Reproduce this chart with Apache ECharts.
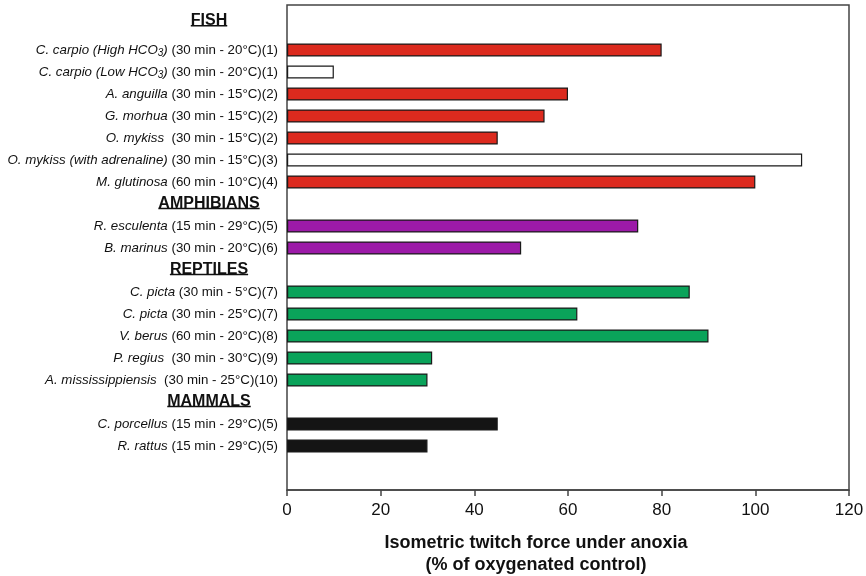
<!DOCTYPE html>
<html><head><meta charset="utf-8">
<script src="https://cdn.jsdelivr.net/npm/echarts@6/dist/echarts.min.js"></script>
<style>html,body{margin:0;padding:0;background:#fff}#c{width:866px;height:576px}</style>
</head><body><div id="c"></div>
<script>
// ---- data ----
const species = ['C. carpio (High HCO3)','C. carpio (Low HCO3)','A. anguilla','G. morhua','O. mykiss ','O. mykiss (with adrenaline)','M. glutinosa','AMPHIBIANS','R. esculenta','B. marinus','REPTILES','C. picta','C. picta','V. berus','P. regius ','A. mississippiensis ','MAMMALS','C. porcellus','R. rattus'];
const conditions = ['(30 min - 20°C)(1)','(30 min - 20°C)(1)','(30 min - 15°C)(2)','(30 min - 15°C)(2)','(30 min - 15°C)(2)','(30 min - 15°C)(3)','(60 min - 10°C)(4)','','(15 min - 29°C)(5)','(30 min - 20°C)(6)','','(30 min - 5°C)(7)','(30 min - 25°C)(7)','(60 min - 20°C)(8)','(30 min - 30°C)(9)','(30 min - 25°C)(10)','','(15 min - 29°C)(5)','(15 min - 29°C)(5)'];
const values = [80,10,60,55,45,110,100,null,75,50,null,86,62,90,31,30,null,45,30];
const groups = ['Fish','Fish','Fish','Fish','Fish','Fish','Fish','header','Amphibians','Amphibians','header','Reptiles','Reptiles','Reptiles','Reptiles','Reptiles','header','Mammals','Mammals'];
const topHeader = 'FISH';
const xTicks = [0,20,40,60,80,100,120];

// ---- styles ----
const FONT = 'Liberation Sans, Arial, Helvetica, sans-serif';
const groupColor = {Fish:'#dc2a1e', Amphibians:'#9c1aa8', Reptiles:'#0aa35a', Mammals:'#141414'};
const openBars = [1,5]; // bars drawn unfilled
const catKeys = species.map((s,i)=>String(i));

function esc(t){return t.replace(/[{}|]/g,'');}
function labelFor(i){
  if (groups[i]==='header') return '';
  const sp = species[i];
  let out = '';
  const m = sp.match(/^(.*HCO)3(\).*)$/);
  if (m) out = '{i|'+esc(m[1])+'}{s|3}{i|'+esc(m[2])+'}';
  else out = '{i|'+esc(sp)+'}';
  return out + '{n| '+esc(conditions[i])+'}';
}

const chart = echarts.init(document.getElementById('c'), null, {renderer:'canvas'});
const L = 287, R = 17;
const option = {
  animation:false,
  grid:[
    {left:L, right:R, top:39, height:418, containLabel:false, outerBoundsMode:'none'},
    {left:L, right:R, top:5, bottom:86, containLabel:false, outerBoundsMode:'none', show:true, borderColor:'#444', borderWidth:1.5, backgroundColor:'transparent', z:0}
  ],
  xAxis:[
    {gridIndex:0, type:'value', min:0, max:120, show:false},
    {gridIndex:1, type:'value', min:xTicks[0], max:xTicks[xTicks.length-1], interval:20,
     axisLine:{show:true, onZero:false, lineStyle:{color:'#444', width:1.5}},
     axisTick:{show:true, inside:false, length:6, lineStyle:{color:'#444', width:1.5}},
     splitLine:{show:false},
     axisLabel:{fontSize:17, color:'#111', fontFamily:FONT, margin:12},
     name:'Isometric twitch force under anoxia\n(% of oxygenated control)',
     nameLocation:'middle', nameGap:42,
     nameTextStyle:{fontSize:18, fontWeight:'bold', color:'#111', fontFamily:FONT, lineHeight:22, padding:[0,64,0,0]}
    }
  ],
  yAxis:[
    {gridIndex:0, type:'category', data:catKeys, inverse:true,
     axisLine:{show:false}, axisTick:{show:false}, splitLine:{show:false},
     axisLabel:{interval:0, margin:9, formatter:(v)=>labelFor(+v),
       rich:{
         i:{fontStyle:'italic', fontSize:13.3, color:'#111', fontFamily:FONT, lineHeight:17},
         n:{fontSize:13.3, color:'#111', fontFamily:FONT, lineHeight:17},
         s:{fontStyle:'italic', fontSize:10, color:'#111', fontFamily:FONT, lineHeight:17, verticalAlign:'bottom', padding:[6,0,0,0]}
       }}
    },
    {gridIndex:1, type:'value', show:false}
  ],
  series:[{
    type:'bar', xAxisIndex:0, yAxisIndex:0, barWidth:13,
    data: values.map((v,i)=>({value:v, itemStyle:{
      color: openBars.includes(i) ? '#ffffff' : (groupColor[groups[i]]||'#000'),
      borderColor:'#1a1a1a', borderWidth:1.2}})),
  }]
};
chart.setOption(option);

// header labels (bold, underlined) positioned from the category axis
const ctx = document.createElement('canvas').getContext('2d');
ctx.font = 'bold 16px ' + FONT;
const hx = 209;
const gfx = [];
function addHeader(text, y){
  const w = ctx.measureText(text).width;
  gfx.push({type:'text', x:hx, y:y, style:{text:text, font:'bold 16px '+FONT, fill:'#111', align:'center', verticalAlign:'middle'}});
  gfx.push({type:'line', shape:{x1:hx-w/2, y1:y+5, x2:hx+w/2, y2:y+5}, style:{stroke:'#111', lineWidth:1.4}});
}
const y0 = chart.convertToPixel({yAxisIndex:0}, catKeys[0]);
addHeader(topHeader, y0 - 29.3);
groups.forEach((g,i)=>{
  if (g==='header'){
    const y = chart.convertToPixel({yAxisIndex:0}, catKeys[i]);
    addHeader(species[i], y - 0.5);
  }
});
chart.setOption({graphic:gfx});
</script></body></html>
